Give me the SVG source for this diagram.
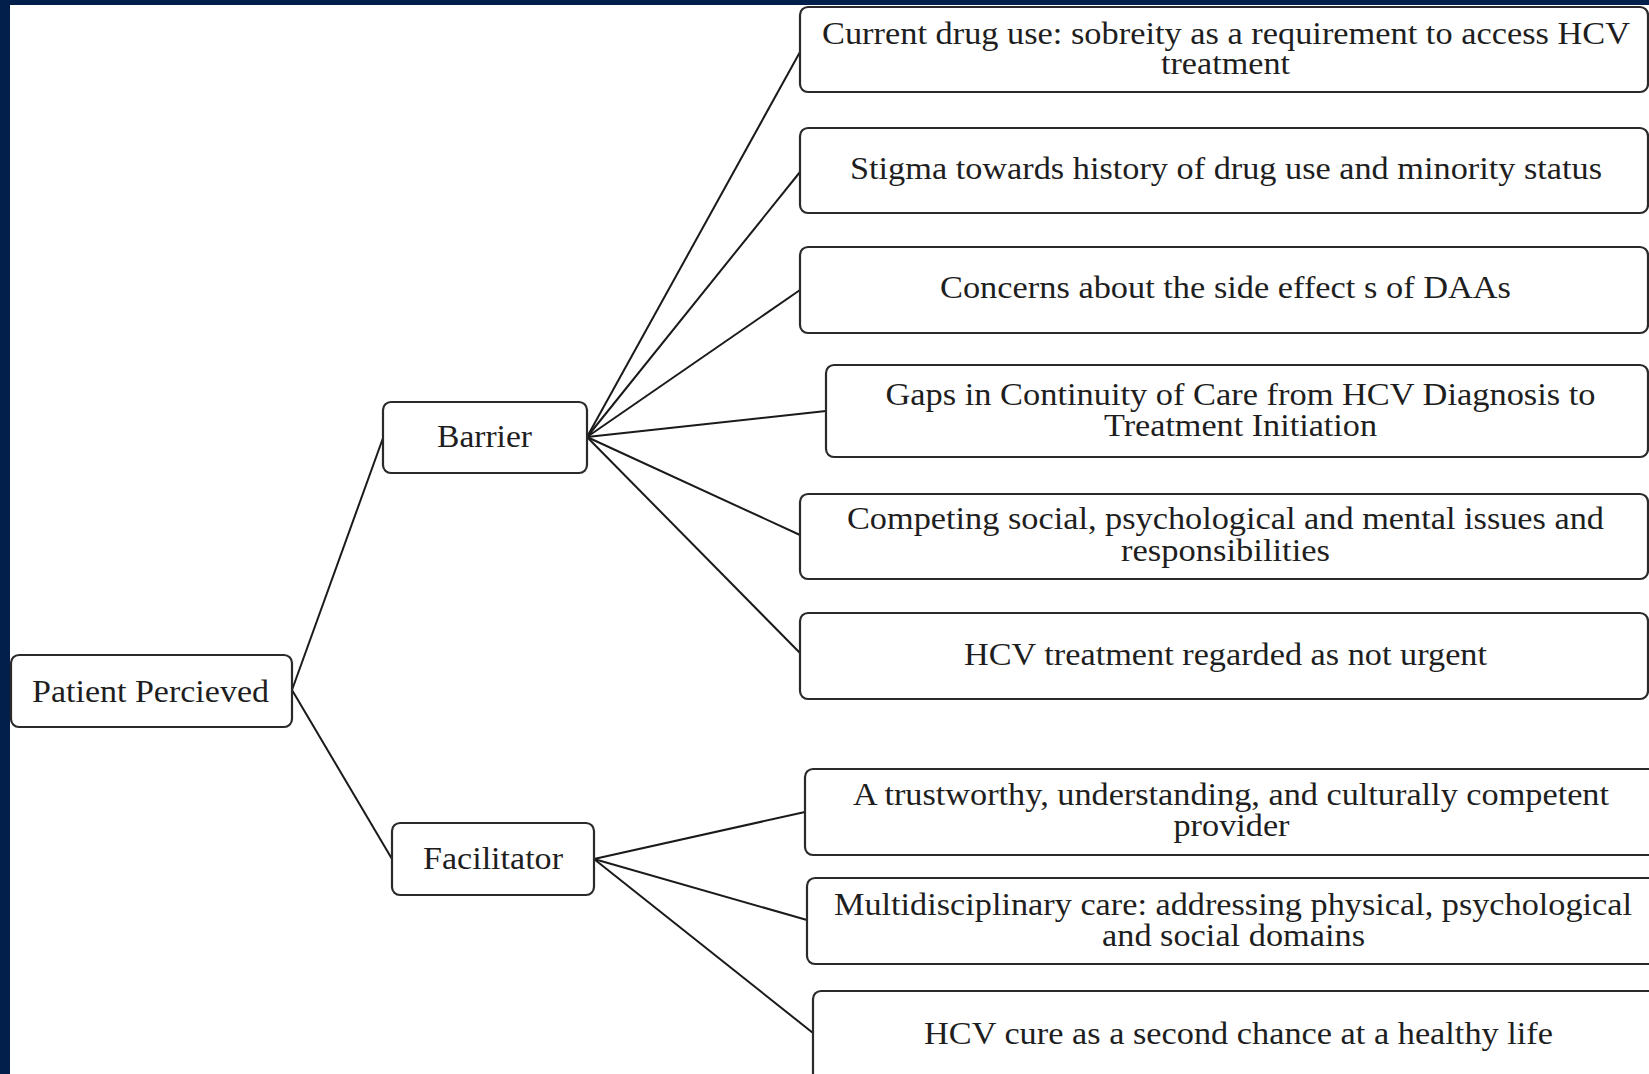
<svg xmlns="http://www.w3.org/2000/svg" width="1649" height="1074" viewBox="0 0 1649 1074">
<style>
.box{fill:#fff;stroke:#2a2a2a;stroke-width:2.2}
.lbl{font-family:"Liberation Serif","Times New Roman",serif;font-size:31px;fill:#1e1e1e;text-anchor:middle}
.con line{stroke:#1a1a1a;stroke-width:2}
</style>
<rect x="0" y="0" width="1649" height="1074" fill="#fff"/>
<rect x="0" y="0" width="1649" height="5" fill="#021f4b"/>
<rect x="0" y="0" width="10" height="1074" fill="#021f4b"/>
<g class="con" id="connectors">
<line x1="292" y1="690" x2="383" y2="438"/>
<line x1="292" y1="690" x2="392" y2="859"/>
<line x1="587" y1="437" x2="800" y2="52"/>
<line x1="587" y1="437" x2="800" y2="172"/>
<line x1="587" y1="437" x2="800" y2="290"/>
<line x1="587" y1="437" x2="826" y2="411"/>
<line x1="587" y1="437" x2="800" y2="535"/>
<line x1="587" y1="437" x2="800" y2="653"/>
<line x1="594" y1="859" x2="805" y2="812"/>
<line x1="594" y1="859" x2="807" y2="920"/>
<line x1="594" y1="859" x2="813" y2="1033"/>
</g>
<g id="patient"><rect class="box" x="11" y="655" width="281" height="72" rx="8"/><text class="lbl" x="150.5" y="702" textLength="237" lengthAdjust="spacingAndGlyphs">Patient Percieved</text></g>
<g id="barrier"><rect class="box" x="383" y="402" width="204" height="71" rx="8"/><text class="lbl" x="484.5" y="447" textLength="95" lengthAdjust="spacingAndGlyphs">Barrier</text></g>
<g id="facilitator"><rect class="box" x="392" y="823" width="202" height="72" rx="8"/><text class="lbl" x="493" y="869" textLength="140" lengthAdjust="spacingAndGlyphs">Facilitator</text></g>
<g id="b1"><rect class="box" x="800" y="7" width="848" height="85" rx="8"/><text class="lbl" x="1226" y="44" textLength="808" lengthAdjust="spacingAndGlyphs">Current drug use: sobreity as a requirement to access HCV</text><text class="lbl" x="1225.5" y="74" textLength="129" lengthAdjust="spacingAndGlyphs">treatment</text></g>
<g id="b2"><rect class="box" x="800" y="128" width="848" height="85" rx="8"/><text class="lbl" x="1226" y="179" textLength="752" lengthAdjust="spacingAndGlyphs">Stigma towards history of drug use and minority status</text></g>
<g id="b3"><rect class="box" x="800" y="247" width="848" height="86" rx="8"/><text class="lbl" x="1225.5" y="298" textLength="571" lengthAdjust="spacingAndGlyphs">Concerns about the side effect s of DAAs</text></g>
<g id="b4"><rect class="box" x="826" y="365" width="822" height="92" rx="8"/><text class="lbl" x="1240.5" y="405" textLength="710" lengthAdjust="spacingAndGlyphs">Gaps in Continuity of Care from HCV Diagnosis to</text><text class="lbl" x="1240.5" y="436" textLength="273" lengthAdjust="spacingAndGlyphs">Treatment Initiation</text></g>
<g id="b5"><rect class="box" x="800" y="494" width="848" height="85" rx="8"/><text class="lbl" x="1225.5" y="529" textLength="757" lengthAdjust="spacingAndGlyphs">Competing social, psychological and mental issues and</text><text class="lbl" x="1225.5" y="561" textLength="209" lengthAdjust="spacingAndGlyphs">responsibilities</text></g>
<g id="b6"><rect class="box" x="800" y="613" width="848" height="86" rx="8"/><text class="lbl" x="1225.5" y="665" textLength="523" lengthAdjust="spacingAndGlyphs">HCV treatment regarded as not urgent</text></g>
<g id="f1"><rect class="box" x="805" y="769" width="860" height="86" rx="8"/><text class="lbl" x="1231" y="805" textLength="756" lengthAdjust="spacingAndGlyphs">A trustworthy, understanding, and culturally competent</text><text class="lbl" x="1231.5" y="836" textLength="116" lengthAdjust="spacingAndGlyphs">provider</text></g>
<g id="f2"><rect class="box" x="807" y="878" width="860" height="86" rx="8"/><text class="lbl" x="1233" y="915" textLength="798" lengthAdjust="spacingAndGlyphs">Multidisciplinary care: addressing physical, psychological</text><text class="lbl" x="1233.5" y="946" textLength="263" lengthAdjust="spacingAndGlyphs">and social domains</text></g>
<g id="f3"><rect class="box" x="813" y="991" width="860" height="100" rx="8"/><text class="lbl" x="1238.5" y="1044" textLength="629" lengthAdjust="spacingAndGlyphs">HCV cure as a second chance at a healthy life</text></g>
</svg>
